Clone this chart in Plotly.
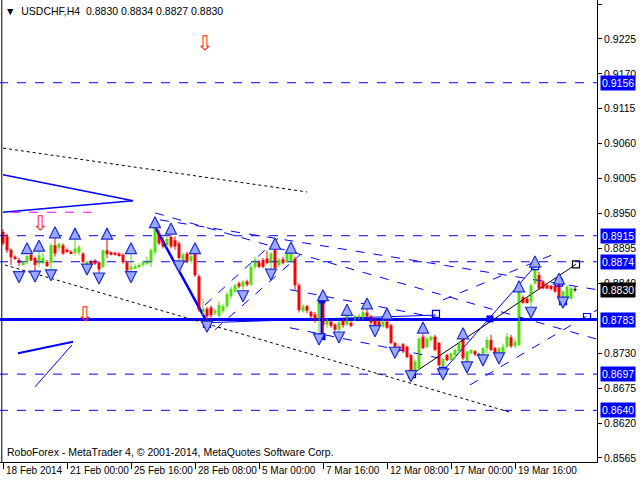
import plotly.graph_objects as go

# ---------------- data (H4 bars, index 0 = 18 Feb 2014) ----------------
bar_open = [0.8921,0.8914,0.8893,0.8882,0.8877,0.8870,0.8873,0.8885,0.8880,0.8871,
            0.8872,0.8874,0.8872,0.8900,0.8896,0.8900,0.8893,0.8890,0.8888,0.8888,
            0.8887,0.8871,0.8875,0.8876,0.8873,0.8866,0.8892,0.8889,0.8888,0.8887,
            0.8885,0.8873,0.8862,0.8864,0.8866,0.8869,0.8871,0.8873,0.8889,0.8919,
            0.8908,0.8900,0.8913,0.8908,0.8903,0.8877,0.8887,0.8875,0.8887,0.8851,
            0.8795,0.8800,0.8802,0.8793,0.8789,0.8796,0.8804,0.8820,0.8827,0.8840,
            0.8835,0.8843,0.8838,0.8866,0.8873,0.8877,0.8879,0.8872,0.8893,0.8869,
            0.8878,0.8874,0.8875,0.8879,0.8837,0.8796,0.8804,0.8795,0.8791,0.8782,
            0.8814,0.8775,0.8780,0.8775,0.8767,0.8781,0.8775,0.8778,0.8781,0.8785,
            0.8785,0.8794,0.8788,0.8782,0.8780,0.8772,0.8780,0.8774,0.8746,0.8740,
            0.8744,0.8740,0.8727,0.8703,0.8706,0.8756,0.8740,0.8751,0.8756,0.8746,
            0.8709,0.8727,0.8719,0.8727,0.8733,0.8754,0.8711,0.8730,0.8733,0.8727,
            0.8725,0.8738,0.8751,0.8738,0.8730,0.8730,0.8740,0.8755,0.8741,0.8743,
            0.8818,0.8816,0.8811,0.8840,0.8853,0.8843,0.8837,0.8836,0.8836,0.8843,
            0.8816,0.8816,0.8816,0.8830]
bar_high = [0.8925,0.8918,0.8895,0.8884,0.8880,0.8873,0.8885,0.8888,0.8882,0.8893,
            0.8888,0.8877,0.8903,0.8914,0.8904,0.8903,0.8895,0.8892,0.8911,0.8900,
            0.8889,0.8875,0.8877,0.8878,0.8875,0.8893,0.8911,0.8890,0.8890,0.8889,
            0.8887,0.8875,0.8890,0.8870,0.8872,0.8876,0.8882,0.8895,0.8932,0.8925,
            0.8913,0.8913,0.8916,0.8914,0.8906,0.8889,0.8890,0.8887,0.8889,0.8854,
            0.8815,0.8803,0.8805,0.8800,0.8812,0.8808,0.8826,0.8835,0.8840,0.8843,
            0.8845,0.8846,0.8870,0.8882,0.8877,0.8880,0.8891,0.8890,0.8900,0.8880,
            0.8882,0.8892,0.8890,0.8882,0.8840,0.8807,0.8806,0.8797,0.8795,0.8814,
            0.8817,0.8784,0.8782,0.8777,0.8781,0.8784,0.8795,0.8780,0.8790,0.8792,
            0.8803,0.8801,0.8790,0.8784,0.8782,0.8782,0.8782,0.8776,0.8748,0.8742,
            0.8746,0.8742,0.8729,0.8720,0.8756,0.8760,0.8756,0.8758,0.8759,0.8748,
            0.8722,0.8729,0.8731,0.8738,0.8748,0.8762,0.8733,0.8736,0.8735,0.8730,
            0.8740,0.8756,0.8759,0.8740,0.8740,0.8745,0.8762,0.8759,0.8753,0.8834,
            0.8821,0.8818,0.8840,0.8869,0.8858,0.8845,0.8840,0.8838,0.8838,0.8845,
            0.8829,0.8837,0.8834,0.8834]
bar_low = [0.8900,0.8888,0.8869,0.8877,0.8867,0.8868,0.8870,0.8875,0.8855,0.8866,
           0.8870,0.8866,0.8856,0.8882,0.8890,0.8885,0.8888,0.8886,0.8884,0.8884,
           0.8872,0.8869,0.8864,0.8869,0.8851,0.8864,0.8880,0.8884,0.8884,0.8882,
           0.8871,0.8857,0.8851,0.8863,0.8864,0.8866,0.8869,0.8866,0.8885,0.8900,
           0.8895,0.8897,0.8895,0.8893,0.8877,0.8874,0.8872,0.8872,0.8850,0.8795,
           0.8790,0.8777,0.8783,0.8790,0.8786,0.8793,0.8801,0.8815,0.8825,0.8832,
           0.8822,0.8835,0.8836,0.8862,0.8864,0.8864,0.8870,0.8856,0.8862,0.8866,
           0.8870,0.8872,0.8872,0.8830,0.8794,0.8794,0.8793,0.8784,0.8778,0.8762,
           0.8760,0.8770,0.8770,0.8764,0.8759,0.8770,0.8773,0.8771,0.8780,0.8783,
           0.8783,0.8786,0.8775,0.8763,0.8770,0.8770,0.8768,0.8744,0.8733,0.8732,
           0.8730,0.8722,0.8697,0.8700,0.8704,0.8736,0.8738,0.8748,0.8733,0.8709,
           0.8701,0.8717,0.8717,0.8720,0.8731,0.8719,0.8705,0.8728,0.8725,0.8724,
           0.8723,0.8730,0.8733,0.8728,0.8728,0.8728,0.8738,0.8738,0.8738,0.8741,
           0.8808,0.8808,0.8798,0.8838,0.8830,0.8831,0.8831,0.8829,0.8825,0.8816,
           0.8811,0.8814,0.8814,0.8827]
bar_close = [0.8903,0.8892,0.8881,0.8879,0.8872,0.8873,0.8883,0.8876,0.8869,0.8884,
             0.8880,0.8867,0.8900,0.8887,0.8902,0.8887,0.8890,0.8887,0.8895,0.8897,
             0.8874,0.8874,0.8870,0.8871,0.8862,0.8892,0.8886,0.8885,0.8885,0.8884,
             0.8873,0.8860,0.8866,0.8867,0.8869,0.8873,0.8876,0.8893,0.8927,0.8903,
             0.8898,0.8910,0.8898,0.8898,0.8880,0.8885,0.8874,0.8883,0.8853,0.8798,
             0.8800,0.8788,0.8790,0.8797,0.8806,0.8804,0.8823,0.8831,0.8837,0.8835,
             0.8843,0.8838,0.8866,0.8877,0.8866,0.8866,0.8872,0.8887,0.8864,0.8877,
             0.8872,0.8887,0.8888,0.8837,0.8798,0.8804,0.8797,0.8788,0.8782,0.8811,
             0.8774,0.8781,0.8773,0.8767,0.8778,0.8774,0.8791,0.8773,0.8788,0.8789,
             0.8795,0.8788,0.8778,0.8767,0.8772,0.8780,0.8770,0.8746,0.8735,0.8735,
             0.8733,0.8724,0.8701,0.8717,0.8753,0.8738,0.8753,0.8756,0.8735,0.8711,
             0.8721,0.8719,0.8730,0.8735,0.8746,0.8722,0.8733,0.8735,0.8728,0.8727,
             0.8738,0.8751,0.8735,0.8730,0.8738,0.8740,0.8756,0.8741,0.8748,0.8830,
             0.8809,0.8809,0.8837,0.8861,0.8832,0.8832,0.8832,0.8831,0.8827,0.8818,
             0.8827,0.8835,0.8832,0.8830]

x_tick_pos = [0, 16, 32, 48, 64, 80, 96, 112, 128]
x_tick_text = ["18 Feb 2014", "21 Feb 00:00", "25 Feb 16:00", "28 Feb 08:00", "5 Mar 00:00",
               "7 Mar 16:00", "12 Mar 08:00", "17 Mar 00:00", "19 Mar 16:00"]
y_tick_vals = [0.9280, 0.9225, 0.9170, 0.9115, 0.9060, 0.9005, 0.8950, 0.8895,
               0.8840, 0.8730, 0.8675, 0.8620, 0.8565]
level_prices = [0.9156, 0.8915, 0.8874, 0.8697, 0.8640]
main_level = 0.8783
last_price = 0.8830

# fractal-like arrows (bar index, price)
up_arrow_x = [6, 9, 13, 18, 26, 32, 38, 42, 48, 68, 72, 80, 86, 91, 96, 105, 115, 129, 133, 139]
up_arrow_y = [0.8904, 0.8908, 0.8929, 0.8927, 0.8927, 0.8904, 0.8945, 0.8935, 0.8904, 0.8911,
              0.8905, 0.8830, 0.8807, 0.8817, 0.8801, 0.8779, 0.8770, 0.8844, 0.8883, 0.8856]
dn_arrow_x = [4, 8, 12, 21, 24, 32, 44, 51, 60, 67, 79, 84, 93, 98, 102, 110, 116, 120, 124, 132, 140]
dn_arrow_y = [0.8841, 0.8842, 0.8844, 0.8853, 0.8839, 0.8841, 0.8858, 0.8763, 0.8811, 0.8845,
              0.8743, 0.8746, 0.8756, 0.8722, 0.8685, 0.8688, 0.8699, 0.8710, 0.8713, 0.8785, 0.8801]
# red hollow arrows (bar index, price)
red_arrow_x = [50.5, 9.3, 20.5]
red_arrow_y = [0.9216, 0.8932, 0.8789]

# swing-point boxes (bar index, price)
blue_box_x = [51, 108.25, 133, 139, 140, 110, 146]
blue_box_y = [0.8776, 0.8792, 0.8867, 0.8841, 0.8812, 0.8702, 0.8787]
black_box_x = [102.25, 143.25]
black_box_y = [0.8697, 0.8870]
solid_box_x = [79.75, 79.75, 121.75]
solid_box_y = [0.8814, 0.8756, 0.8784]

# trend lines: (x0, y0, x1, y1, color, dash, width)
trend_lines = [
    (0.0, 0.9053, 76.0, 0.8984, "black", "dot", 1),
    (0.0, 0.9011, 32.5, 0.8970, "#0000FF", "solid", 1.5),
    (0.0, 0.8952, 32.5, 0.8970, "#0000FF", "solid", 1.5),
    (2.0, 0.8952, 22.0, 0.8952, "#FF00FF", "dash", 1),
    (0.5, 0.8869, 126.75, 0.8637, "black", "dot", 1),
    (38.0, 0.8951, 148.5, 0.8752, "#0000FF", "dash", 1),
    (39.25, 0.8940, 148.5, 0.8830, "#0000FF", "dash", 1),
    (50.5, 0.8806, 70.5, 0.8921, "#0000FF", "dash", 1),
    (53.0, 0.8767, 74.25, 0.8885, "#0000FF", "dash", 1),
    (71.75, 0.8830, 109.25, 0.8785, "#0000FF", "dash", 1),
    (71.75, 0.8770, 109.25, 0.8722, "#0000FF", "dash", 1),
    (110.0, 0.8814, 138.5, 0.8888, "#0000FF", "dash", 1),
    (116.75, 0.8680, 148.5, 0.8798, "#0000FF", "dash", 1),
    (79.75, 0.8814, 79.75, 0.8756, "#0000FF", "solid", 3),
    (38.0, 0.8929, 51.0, 0.8779, "#0000FF", "solid", 2.5),
    (51.0, 0.8778, 108.25, 0.8790, "#0000FF", "solid", 1),
    (102.25, 0.8697, 143.25, 0.8870, "black", "solid", 1),
    (110.0, 0.8702, 133.0, 0.8867, "#0000FF", "solid", 1),
    (3.75, 0.8730, 17.5, 0.8748, "#0000FF", "solid", 2),
    (8.0, 0.8677, 17.25, 0.8743, "#0000FF", "solid", 1),
]

# ---------------- figure ----------------
GREEN = "#55DD11"
RED = "#FF0000"
FONT = "Liberation Sans, Arial"
fig = go.Figure()

for lvl in level_prices:
    fig.add_trace(go.Scatter(x=[-1, 150], y=[lvl, lvl], mode="lines",
                             line=dict(color="#0000FF", width=1, dash="dash"),
                             hoverinfo="skip", showlegend=False))
fig.add_trace(go.Scatter(x=[-1, 150], y=[main_level, main_level], mode="lines",
                         line=dict(color="#0000FF", width=3), hoverinfo="skip", showlegend=False))

for (x0, y0, x1, y1, col, dash, w) in trend_lines:
    fig.add_trace(go.Scatter(x=[x0, x1], y=[y0, y1], mode="lines",
                             line=dict(color=col, width=w, dash=dash),
                             hoverinfo="skip", showlegend=False))

# candles
n = len(bar_open)
for kind, col in (("up", GREEN), ("dn", RED), ("doji", "black")):
    wx, wy, bx, bb, bh = [], [], [], [], []
    for i in range(n):
        o, h, l, c = bar_open[i], bar_high[i], bar_low[i], bar_close[i]
        k = "up" if c > o else ("dn" if c < o else "doji")
        if k != kind:
            continue
        wx += [i, i, None]
        wy += [l, h, None]
        if k == "doji":
            wx += [i - 0.4, i + 0.4, None]
            wy += [o, o, None]
        else:
            bx.append(i)
            bb.append(min(o, c))
            bh.append(abs(c - o))
    fig.add_trace(go.Scatter(x=wx, y=wy, mode="lines", line=dict(color=col, width=1),
                             hoverinfo="skip", showlegend=False))
    if bx:
        fig.add_trace(go.Bar(x=bx, base=bb, y=bh, width=0.75, marker=dict(color=col, line=dict(width=0)),
                             hoverinfo="skip", showlegend=False))

fig.add_trace(go.Scatter(x=blue_box_x, y=blue_box_y, mode="markers",
                         marker=dict(symbol="square-open", size=7, color="#0000FF", line=dict(width=1.2)),
                         hoverinfo="skip", showlegend=False))
fig.add_trace(go.Scatter(x=black_box_x, y=black_box_y, mode="markers",
                         marker=dict(symbol="square-open", size=7, color="black", line=dict(width=1.2)),
                         hoverinfo="skip", showlegend=False))
fig.add_trace(go.Scatter(x=solid_box_x, y=solid_box_y, mode="markers",
                         marker=dict(symbol="square", size=7, color="#0000FF"),
                         hoverinfo="skip", showlegend=False))
fig.add_trace(go.Scatter(x=up_arrow_x, y=up_arrow_y, mode="markers",
                         marker=dict(symbol="arrow-up", size=11, color="#9AA8FF",
                                     line=dict(color="#1F2FD0", width=1.2)),
                         hoverinfo="skip", showlegend=False))
fig.add_trace(go.Scatter(x=dn_arrow_x, y=dn_arrow_y, mode="markers",
                         marker=dict(symbol="arrow-down", size=11, color="#9AA8FF",
                                     line=dict(color="#1F2FD0", width=1.2)),
                         hoverinfo="skip", showlegend=False))
fig.add_trace(go.Scatter(x=red_arrow_x, y=red_arrow_y, mode="text", text=["\u21e9"] * 3,
                         textfont=dict(color="#FF2222", size=20, family="DejaVu Sans"),
                         hoverinfo="skip", showlegend=False))

annotations = []
for pos, txt in zip(x_tick_pos, x_tick_text):
    annotations.append(dict(x=pos, y=0, xref="x", yref="paper", text=txt, showarrow=False,
                            xanchor="left", yanchor="top", xshift=1, yshift=-1,
                            font=dict(family=FONT, size=10, color="black")))
for lvl in level_prices + [main_level]:
    annotations.append(dict(x=1, y=lvl, xref="paper", yref="y", text=f"{lvl:.4f}", showarrow=False,
                            xanchor="left", yanchor="middle", xshift=3, bgcolor="#0000FF",
                            borderpad=1, font=dict(family=FONT, size=10.5, color="white")))
annotations.append(dict(x=1, y=last_price, xref="paper", yref="y", text=f"{last_price:.4f}",
                        showarrow=False, xanchor="left", yanchor="middle", xshift=3, bgcolor="black",
                        borderpad=1, font=dict(family=FONT, size=10.5, color="white")))
annotations.append(dict(x=0, y=1, xref="paper", yref="paper",
                        text="\u25bc  USDCHF,H4  0.8830 0.8834 0.8827 0.8830", showarrow=False,
                        xanchor="left", yanchor="top", xshift=3, yshift=-3,
                        font=dict(family=FONT, size=10.5, color="black")))
annotations.append(dict(x=0, y=0, xref="paper", yref="paper",
                        text="RoboForex - MetaTrader 4, \u00a9 2001-2014, MetaQuotes Software Corp.",
                        showarrow=False, xanchor="left", yanchor="bottom", xshift=5, yshift=2,
                        font=dict(family=FONT, size=10.5, color="black")))

fig.update_layout(
    width=640, height=480, autosize=False,
    margin=dict(l=0, r=43, t=0, b=18),
    paper_bgcolor="white", plot_bgcolor="white",
    barmode="overlay", showlegend=False,
    xaxis=dict(range=[-0.75, 148.5], showgrid=False, zeroline=False, showline=True,
               linecolor="black", linewidth=1, ticks="outside", ticklen=6, tickcolor="black",
               tickvals=x_tick_pos, showticklabels=False, fixedrange=True),
    yaxis=dict(range=[0.85586, 0.92863], side="right", showgrid=False, zeroline=False,
               showline=True, linecolor="black", linewidth=1, ticks="outside", ticklen=4,
               tickcolor="black", tickvals=y_tick_vals, ticktext=[f"{v:.4f}" for v in y_tick_vals],
               tickfont=dict(family=FONT, size=10.5, color="black"), fixedrange=True),
    annotations=annotations,
    shapes=[dict(type="line", xref="paper", yref="paper", x0=0.003, x1=0.003, y0=0, y1=1,
                 line=dict(color="black", width=1))],
)

fig.write_html("out.html", config={"displayModeBar": False},
               post_script="document.body.style.margin='0px';")
